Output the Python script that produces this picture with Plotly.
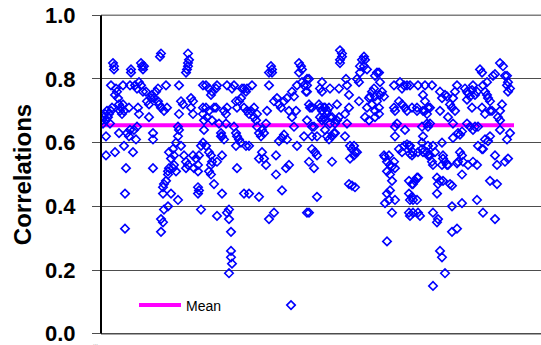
import plotly.graph_objects as go

obs = [
 0,1,2,3,4,5,6,7,8,9,10,4,4,13,9,11,12,12,13,14,15,16,17,18,19,20,21,22,17,21,22,24,23,23,25,27,28,27,29,29,28,31,32,34,35,33,35,37,39,41,36,37,39,40,41,42,44,45,47,49,47,51,51,51,50,52,54,56,57,58,59,56,59,62,65,64,
 61,61,62,64,66,67,69,67,71,72,74,71,66,62,59,61,59,66,69,76,72,
 76,77,76,74,79,77,79,81,77,
 84,86,86,87,86,85,
 82,84,84,86,89,91,89,91,91,94,96,96,92,97,96,96,97,99,99,101,101,101,101,102,
 104,107,109,110,115,114,104,107,112,114,110,105,102,104,107,109,109,110,107,109,112,120,115,120,117,119,120,122,124,119,122,124,125,125,130,132,127,125,127,129,129,129,130,127,115,134,135,137,139,132,134,135,137,134,139,135,140,142,144,145,150,142,145,147,142,147,144,147,149,152,154,155,157,159,160,162,164,165,152,155,157,160,162,164,157,169,170,170,167,167,167,172,172,175,177,179,182,185,187,174,174,180,177,180,182,185,184,187,189,190,192,194,195,190,192,195,197,199,200,197,200,202,205,204,202,205,
 207,205,205,207,208,210,205,210,212,210,215,207,212,210,213,215,215,207,220,218,220,217,218,220,222,223,225,227,222,223,225,228,230,218,220,223,225,227,230,232,228,228,237,235,230,233,235,237,233,238,240,238,238,240,243,243,245,244,245,247,247,248,252,250,253,248,252,255,247,250,253,255,257,258,260,262,263,265,258,262,257,263,267,265,267,268,270,272,273,275,277,278,280,282,270,273,273,277,275,277,273,278,282,283,285,287,288,290,285,288,292,293,285,283,285,287,288,293,290,290,292,298,300,302,305,292,297,300,303,305,293,293,295,293,303,297,302,305,307,308,300,307,307,308,307,308,
 310,308,308,310,311,316,310,311,313,315,316,311,315,310,311,316,318,315,315,316,321,323,321,323,326,325,328,323,330,320,321,325,326,320,328,320,321,326,328,330,331,325,326,331,333,331,336,335,331,335,336,335,338,338,340,343,338,340,343,345,338,346,340,341,343,340,345,346,341,341,348,350,348,350,351,353,353,355,350,350,355,360,351,351,356,358,360,356,358,360,355,361,360,363,365,366,368,370,371,373,375,370,365,365,368,371,373,376,366,371,375,376,380,381,375,381,393,378,380,381,383,385,386,388,380,383,390,388,385,383,388,386,388,395,391,393,393,395,396,398,400,398,398,401,403,405,406,408,406,405,398,403,406,405,408,
]
corr = [
 0.67,0.66,0.68,0.69,0.67,0.70,0.68,0.69,0.66,0.70,0.71,0.56,0.62,0.57,0.78,0.85,0.84,0.83,0.75,0.77,0.76,0.74,0.72,0.70,0.71,0.69,0.72,0.70,0.63,0.78,0.59,0.52,0.44,0.33,0.63,0.62,0.64,0.71,0.83,0.82,0.78,0.57,0.64,0.61,0.65,0.78,0.77,0.79,0.78,0.76,0.71,0.69,0.85,0.84,0.83,0.84,0.76,0.73,0.72,0.74,0.68,0.63,0.61,0.52,0.75,0.74,0.76,0.73,0.72,0.87,0.88,0.77,0.71,0.70,0.71,0.78,
 0.46,0.44,0.47,0.48,0.50,0.52,0.55,0.57,0.58,0.53,0.51,0.52,0.51,0.39,0.36,0.35,0.32,0.40,0.44,0.42,0.56,
 0.65,0.64,0.62,0.60,0.59,0.69,0.73,0.72,0.78,
 0.82,0.84,0.85,0.86,0.88,0.83,
 0.56,0.54,0.52,0.53,0.74,0.73,0.71,0.69,0.56,0.55,0.53,0.51,0.52,0.56,0.46,0.44,0.45,0.39,0.59,0.60,0.78,0.71,0.69,0.67,
 0.78,0.77,0.75,0.76,0.78,0.77,0.71,0.70,0.71,0.71,0.67,0.68,0.64,0.59,0.57,0.56,0.53,0.54,0.51,0.50,0.47,0.44,0.54,0.56,0.66,0.63,0.62,0.61,0.66,0.62,0.70,0.69,0.71,0.78,0.77,0.78,0.39,0.38,0.36,0.32,0.26,0.24,0.22,0.19,0.37,0.73,0.71,0.73,0.74,0.65,0.63,0.62,0.61,0.59,0.60,0.52,0.77,0.77,0.76,0.77,0.78,0.71,0.70,0.69,0.44,0.44,0.59,0.59,0.70,0.68,0.67,0.65,0.63,0.62,0.64,0.63,0.66,0.70,0.71,0.69,0.55,0.57,0.55,0.53,0.43,0.84,0.83,0.82,0.82,0.78,0.36,0.38,0.73,0.74,0.72,0.71,0.73,0.74,0.70,0.56,0.50,0.45,0.605,0.615,0.625,0.61,0.52,0.53,0.09,0.76,0.745,0.70,0.78,0.68,0.65,0.59,0.85,0.84,0.83,0.82,0.79,0.78,0.80,0.76,0.62,0.38,
 0.80,0.78,0.76,0.72,0.71,0.71,0.67,0.65,0.65,0.62,0.62,0.54,0.52,0.58,0.57,0.56,0.43,0.38,0.79,0.77,0.76,0.72,0.71,0.70,0.71,0.71,0.70,0.71,0.68,0.67,0.69,0.68,0.68,0.68,0.67,0.64,0.62,0.61,0.62,0.63,0.66,0.77,0.77,0.72,0.54,0.66,0.67,0.68,0.63,0.89,0.88,0.86,0.85,0.87,0.69,0.62,0.66,0.80,0.78,0.75,0.71,0.59,0.59,0.58,0.57,0.55,0.56,0.57,0.47,0.465,0.46,0.80,0.79,0.84,0.86,0.87,0.86,0.83,0.82,0.84,0.73,0.68,0.67,0.71,0.74,0.745,0.76,0.77,0.745,0.73,0.71,0.75,0.76,0.745,0.72,0.70,0.68,0.69,0.82,0.82,0.81,0.79,0.56,0.555,0.54,0.56,0.53,0.525,0.51,0.50,0.54,0.52,0.29,0.41,0.44,0.42,0.45,0.42,0.48,0.38,0.78,0.79,0.77,0.78,0.78,0.71,0.73,0.72,0.71,0.70,0.70,0.65,0.66,0.62,0.64,0.58,0.59,0.595,0.59,0.565,0.57,0.48,0.44,0.42,0.38,0.37,
 0.71,0.78,0.59,0.56,0.57,0.57,0.47,0.47,0.48,0.49,0.49,0.42,0.42,0.43,0.38,0.38,0.37,0.71,0.70,0.78,0.75,0.73,0.70,0.70,0.71,0.69,0.71,0.78,0.78,0.65,0.62,0.66,0.65,0.60,0.66,0.58,0.57,0.59,0.56,0.54,0.53,0.57,0.56,0.59,0.57,0.38,0.36,0.35,0.15,0.49,0.47,0.44,0.48,0.26,0.24,0.19,0.76,0.74,0.75,0.745,0.70,0.68,0.60,0.56,0.54,0.53,0.53,0.53,0.55,0.48,0.47,0.465,0.72,0.71,0.74,0.76,0.70,0.78,0.40,0.32,0.33,0.41,0.66,0.615,0.63,0.625,0.635,0.54,0.57,0.56,0.535,0.54,0.50,0.77,0.76,0.755,0.745,0.765,0.78,0.75,0.76,0.71,0.735,0.66,0.65,0.64,0.65,0.65,0.53,0.54,0.53,0.59,0.58,0.58,0.42,0.38,0.36,0.83,0.82,0.78,0.76,0.75,0.74,0.70,0.71,0.69,0.70,0.73,0.79,0.61,0.62,0.605,0.48,0.47,0.81,0.815,0.56,0.53,0.68,0.67,0.72,0.70,0.85,0.84,0.81,0.81,0.79,0.77,0.76,0.78,0.64,0.54,0.55,0.61,0.63,
]
mean_value = 0.655
mean_span = [0, 412]
y_ticks = [0.0, 0.2, 0.4, 0.6, 0.8, 1.0]
y_ticktext = ["0.0", "0.2", "0.4", "0.6", "0.8", "1.0"]
x_range = [-1, 439]
y_range = [-0.004, 1.004]

FONT = "Liberation Sans, Arial, sans-serif"

fig = go.Figure()
# frame lines at the bottom (0.0) and top (1.0) of the value axis
for yv, col in ((y_ticks[0], "#4d4d4d"), (y_ticks[-1], "#7f7f7f")):
    fig.add_trace(go.Scatter(
        x=x_range, y=[yv, yv], mode="lines", showlegend=False, hoverinfo="skip",
        line=dict(color=col, width=1.3), cliponaxis=False))
fig.add_trace(go.Scatter(
    x=mean_span, y=[mean_value, mean_value], mode="lines", name="Mean",
    line=dict(color="#FF00FF", width=4), showlegend=True, hoverinfo="skip"))
fig.add_trace(go.Scatter(
    x=obs, y=corr, mode="markers", name="Correlations", showlegend=False,
    marker=dict(symbol="diamond-open", size=6.5, color="#0000FF",
                line=dict(width=1.6, color="#0000FF"))))

fig.update_layout(
    width=541, height=345,
    margin=dict(l=101, r=0, t=14, b=10),
    paper_bgcolor="white", plot_bgcolor="white",
    font=dict(family=FONT, color="black"),
    showlegend=True,
    legend=dict(x=0.075, y=0.092, xanchor="left", yanchor="middle",
                bgcolor="rgba(0,0,0,0)", font=dict(size=14, family=FONT),
                itemwidth=42, tracegroupgap=0),
    xaxis=dict(range=x_range, showgrid=False, zeroline=False,
               showticklabels=False, ticks="", showline=False),
    yaxis=dict(range=y_range, tickvals=y_ticks,
               ticktext=["<b>%s</b>" % t for t in y_ticktext],
               ticklabeloverflow="allow",
               showgrid=True, gridcolor="#4d4d4d", gridwidth=1,
               zeroline=False,
               showline=False,
               ticks="outside", ticklen=8, tickcolor="#4d4d4d", tickwidth=1,
               ticklabelstandoff=12,
               tickfont=dict(size=22, family=FONT, color="black"),
               title=dict(text="<b>Correlations</b>", standoff=6,
                          font=dict(size=24, family=FONT, color="black"))),
)
# vertical axis line from 0.0 to 1.0
fig.add_shape(type="line", xref="paper", yref="y", x0=0, x1=0, y0=0, y1=1.0,
              line=dict(color="black", width=2), layer="above")
fig.add_annotation(text="...", xref="paper", yref="paper", x=-0.012, y=-0.01,
                   xanchor="center", yanchor="top", showarrow=False,
                   font=dict(size=6, color="#888888", family=FONT))

fig.write_html("out.html")
